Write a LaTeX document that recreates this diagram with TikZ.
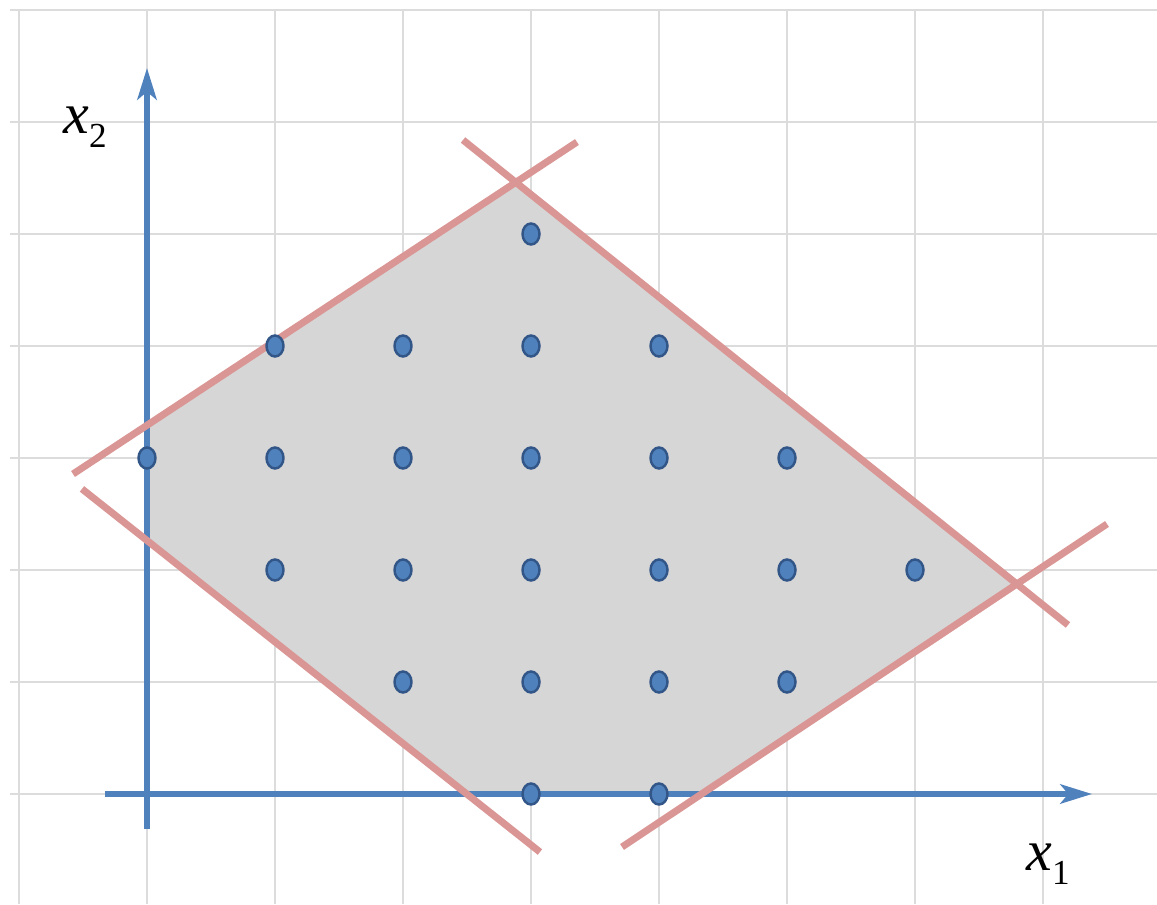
\documentclass[tikz,border=0pt]{standalone}
\usepackage{fontspec}
\setmainfont{Liberation Serif}
\usepackage{tikz}
\usetikzlibrary{arrows.meta}
\definecolor{axisblue}{HTML}{4F81BD}
\definecolor{dotedge}{HTML}{335688}
\definecolor{boundred}{HTML}{D99694}
\definecolor{gridgray}{HTML}{DCDCDC}
\definecolor{regiongray}{HTML}{D6D6D6}

\begin{document}
\begin{tikzpicture}[x=2.56cm, y=2.24cm,
    gridline/.style={draw=gridgray, line width=0.7pt},
    axisline/.style={draw=axisblue, line width=3.1pt,
                     -{Stealth[length=18pt, width=11pt, inset=4.5pt]}},
    boundline/.style={draw=boundred, line width=4pt},
    latpt/.style={fill=axisblue, draw=dotedge, line width=1.4pt},
    axislabel/.style={anchor=base west, inner sep=0pt,
                      font=\fontsize{33}{33}\selectfont\itshape}]
  \useasboundingbox (-1.1484,-0.9821) rectangle (7.8906,7.0893);

  % grid
  \foreach \gx in {-1,...,7}
    \draw[gridline] (\gx,-0.9821) -- (\gx,7);
  \foreach \gy in {0,...,7}
    \draw[gridline] (-1.07,\gy) -- (7.8906,\gy);

  % axes and constraint lines
  \coordinate (xonestart) at (-0.328,0);
  \coordinate (xoneend)   at (7.383,0);
  \coordinate (xtwostart) at (0,-0.3125);
  \coordinate (xtwoend)   at (0,6.482);
  \coordinate (upleftA)  at (-0.578,2.857);
  \coordinate (upleftB)  at (3.359,5.821);
  \coordinate (uprightA) at (2.469,5.839);
  \coordinate (uprightB) at (7.195,1.509);
  \coordinate (lowleftA) at (-0.508,2.724);
  \coordinate (lowleftB) at (3.070,-0.518);
  \coordinate (lowrightA) at (3.711,-0.473);
  \coordinate (lowrightB) at (7.500,2.411);

  % feasible region
  \fill[regiongray]
    (intersection of upleftA--upleftB and xtwostart--xtwoend) --
    (intersection of upleftA--upleftB and uprightA--uprightB) --
    (intersection of uprightA--uprightB and lowrightA--lowrightB) --
    (intersection of lowrightA--lowrightB and xonestart--xoneend) --
    (intersection of lowleftA--lowleftB and xonestart--xoneend) --
    (intersection of lowleftA--lowleftB and xtwostart--xtwoend) -- cycle;

  \draw[axisline] (xonestart) -- (xoneend);
  \draw[axisline] (xtwostart) -- (xtwoend);

  \draw[boundline] (upleftA) -- (upleftB);
  \draw[boundline] (uprightA) -- (uprightB);
  \draw[boundline] (lowleftA) -- (lowleftB);
  \draw[boundline] (lowrightA) -- (lowrightB);

  % integer points
  \foreach \px/\py in {3/5, 1/4, 2/4, 3/4, 4/4, 0/3, 1/3, 2/3, 3/3, 4/3, 5/3,
                       1/2, 2/2, 3/2, 4/2, 5/2, 6/2, 2/1, 3/1, 4/1, 5/1, 3/0, 4/0}
    \draw[latpt] (\px,\py) ellipse (0.17cm and 0.21cm);

  \node[axislabel] (xtwolbl) at (-0.656,5.90)
    {x\raisebox{-8pt}{\fontsize{20}{20}\selectfont\upshape 2}};
  \node[axislabel] (xonelbl) at (6.867,-0.679)
    {x\raisebox{-8pt}{\fontsize{20}{20}\selectfont\upshape 1}};
\end{tikzpicture}
\end{document}
